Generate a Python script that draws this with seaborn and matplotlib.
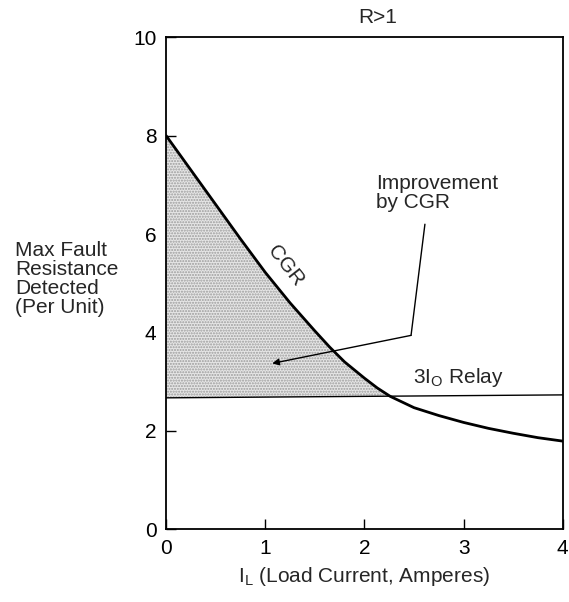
import numpy as np
import pandas as pd
import matplotlib
matplotlib.use('Agg')
import matplotlib.pyplot as plt
import seaborn as sns

# values
load_current = [0.0, 0.25, 0.5, 0.75, 1.0, 1.25, 1.5, 1.65, 1.8, 2.0, 2.13, 2.26,
                2.5, 2.75, 3.0, 3.25, 3.5, 3.75, 4.0]
cgr_resistance = [8.0, 7.3, 6.6, 5.9, 5.22, 4.6, 4.03, 3.7, 3.4, 3.07, 2.87, 2.70,
                  2.47, 2.31, 2.17, 2.05, 1.95, 1.86, 1.79]
relay_current = [0.0, 4.0]
relay_resistance = [2.67, 2.73]
x_ticks = [0, 1, 2, 3, 4]
y_ticks = [0, 2, 4, 6, 8, 10]

sns.set_style('ticks')
plt.rcParams['font.family'] = ['Liberation Sans', 'DejaVu Sans']
plt.rcParams['mathtext.fontset'] = 'custom'
plt.rcParams['mathtext.rm'] = 'Liberation Sans'

cgr = pd.DataFrame({'I': load_current, 'R': cgr_resistance})
relay = pd.DataFrame({'I': relay_current, 'R': relay_resistance})

fig = plt.figure(figsize=(5.69, 6.02), dpi=100)
ax = fig.add_axes([0.292, 0.121, 0.697, 0.817])

# shaded improvement region between the CGR curve and the relay line
relay_on_grid = np.interp(load_current, relay_current, relay_resistance)
ax.fill_between(load_current, relay_on_grid, cgr_resistance,
                where=np.array(cgr_resistance) >= relay_on_grid, interpolate=True,
                facecolor='#e6e6e6', hatch='......', edgecolor='#9c9c9c', linewidth=0)

sns.lineplot(data=cgr, x='I', y='R', ax=ax, color='black', linewidth=2.0)
sns.lineplot(data=relay, x='I', y='R', ax=ax, color='black', linewidth=1.0)

ax.set_xlim(0, 4)
ax.set_ylim(0, 10)
ax.set_xticks(x_ticks)
ax.set_yticks(y_ticks)
ax.tick_params(direction='in', length=7, width=1, labelsize=15, pad=7, colors='black')
for s in ax.spines.values():
    s.set_visible(True)
    s.set_linewidth(1.3)
    s.set_color('black')

ax.set_xlabel(r'I$_{\mathregular{L}}$ (Load Current, Amperes)', fontsize=15, labelpad=5)
ax.set_ylabel('')
fig.text(0.026, 0.600, 'Max Fault\nResistance\nDetected\n(Per Unit)',
         fontsize=15, ha='left', va='top', linespacing=1.0)

ax.text(2.13, 10.4, 'R>1', fontsize=15, ha='center', va='center', clip_on=False)
ax.text(1.2, 5.35, 'CGR', fontsize=15, rotation=-52, ha='center', va='center')
ax.text(2.12, 7.22, 'Improvement\nby CGR', fontsize=15, ha='left', va='top', linespacing=1.0)
ax.text(2.49, 3.09, r'3I$_{\mathregular{O}}$ Relay', fontsize=15, ha='left', va='center')

# leader line with arrow into the shaded region
ax.plot([2.61, 2.47], [6.2, 3.94], color='black', linewidth=1.0)
ax.annotate('', xy=(1.07, 3.37), xytext=(2.47, 3.94),
            arrowprops=dict(arrowstyle='-|>', color='black', lw=1.0,
                            mutation_scale=10, shrinkA=0, shrinkB=0))

plt.savefig('out.png', dpi=100, facecolor='white')
